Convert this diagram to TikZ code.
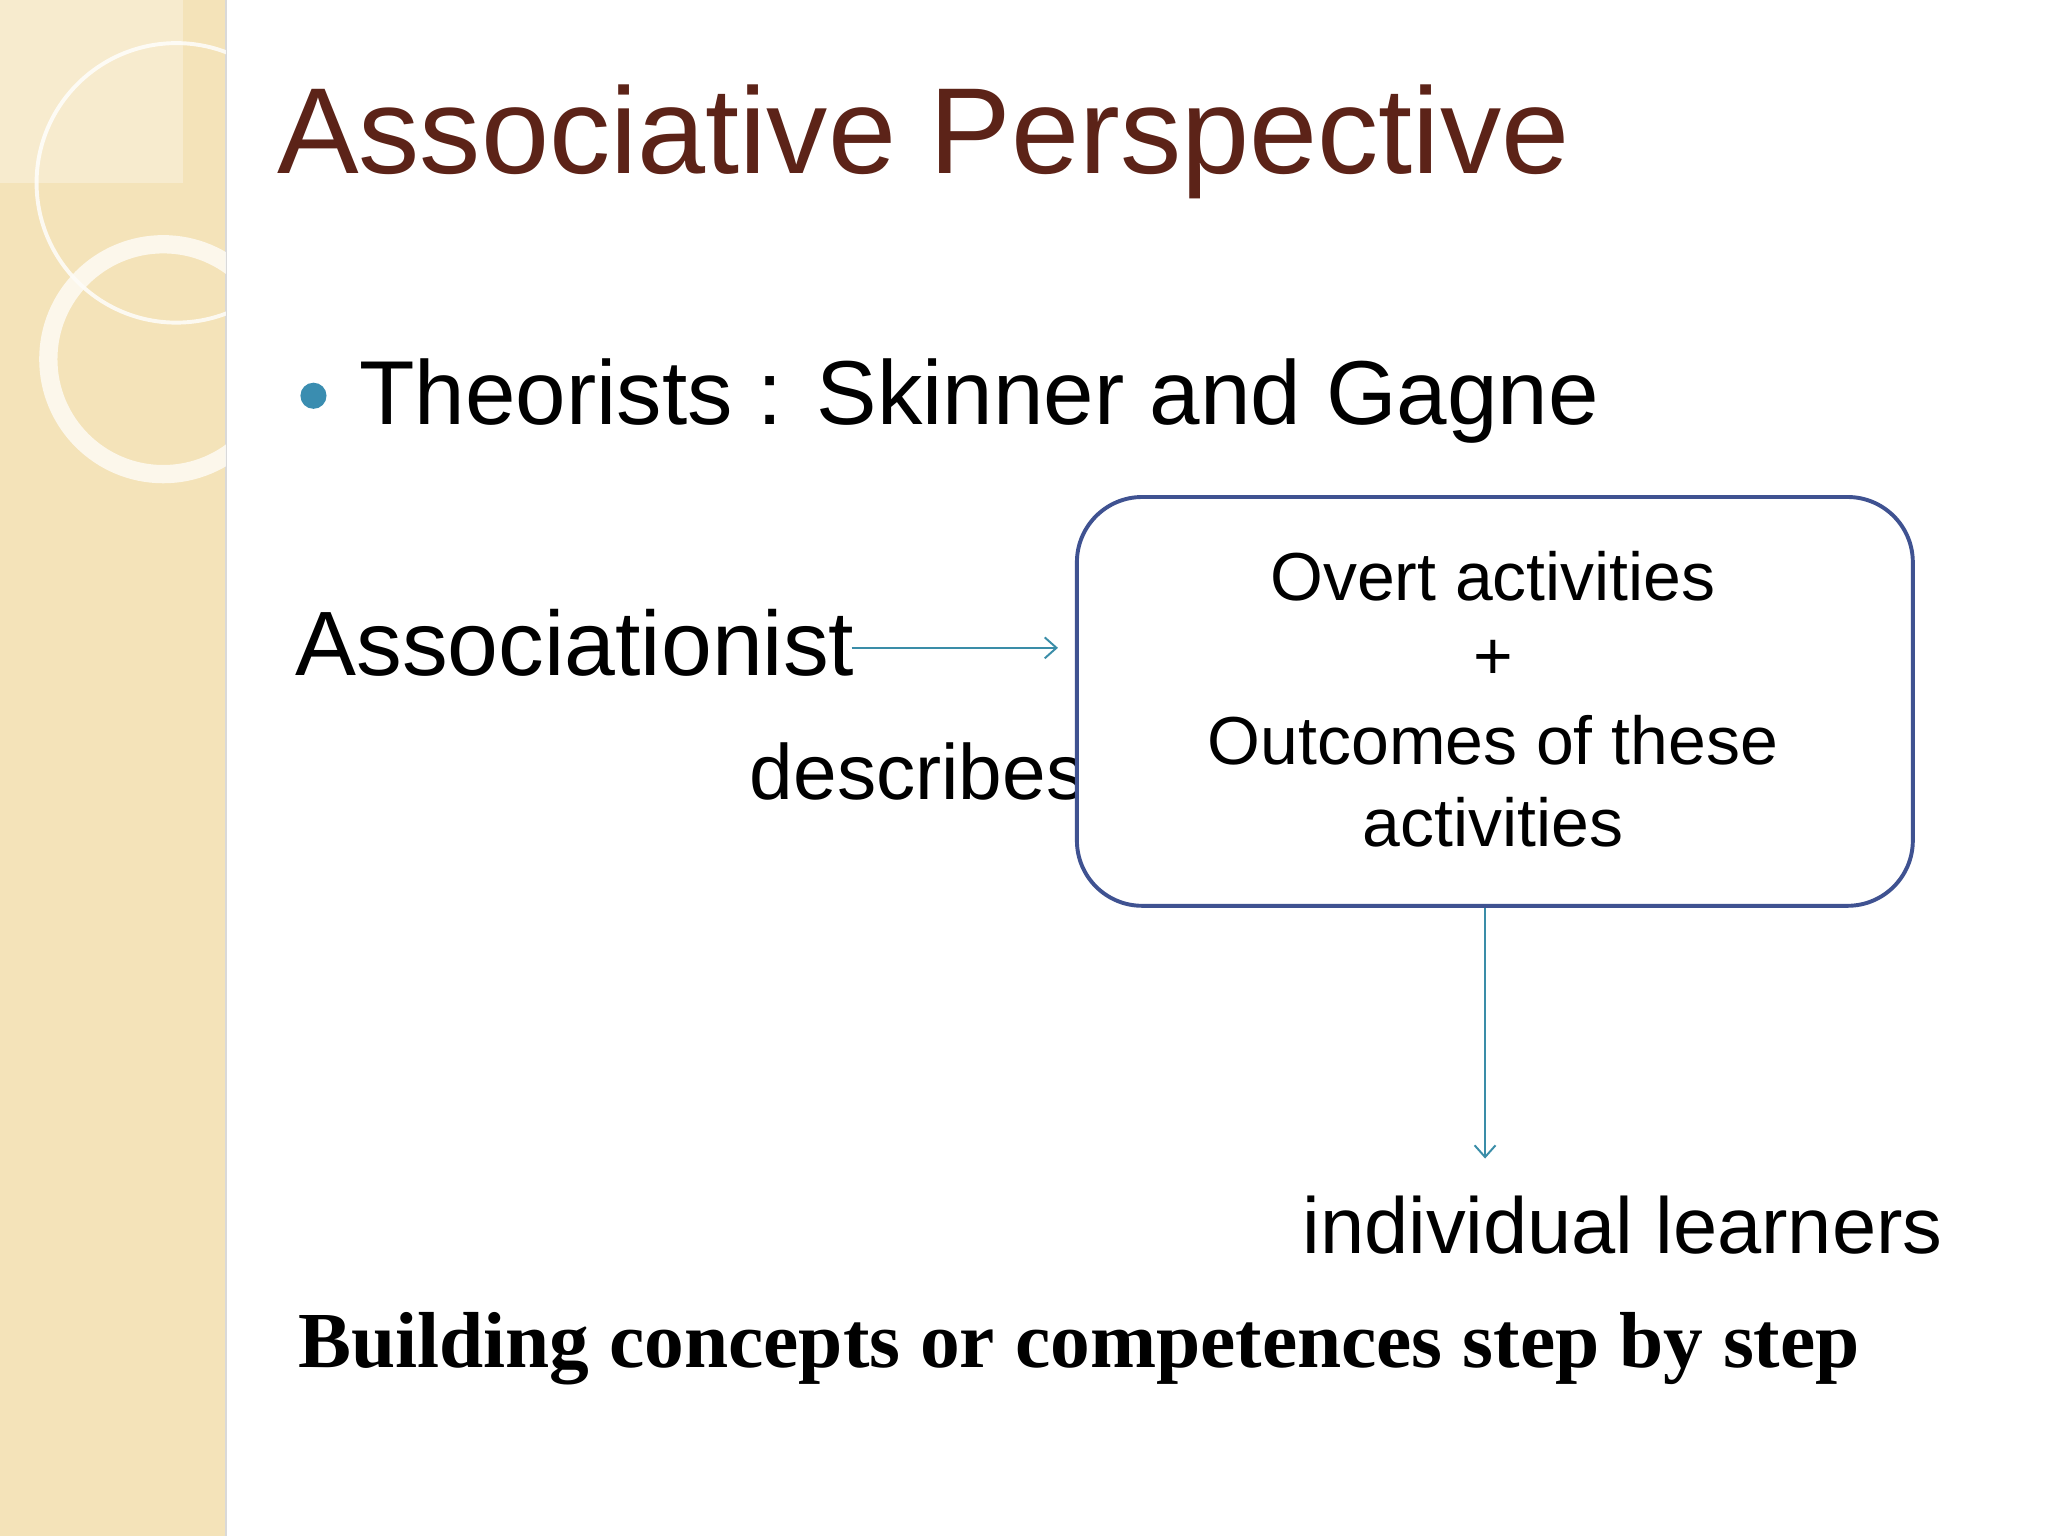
\documentclass[tikz,border=0pt]{standalone}
\usepackage{fontspec}
\setmainfont{Liberation Sans}
\newfontfamily\serifb{Liberation Serif}
\usetikzlibrary{arrows.meta}
\definecolor{strip}{HTML}{F4E3B9}
\definecolor{titlec}{HTML}{5C2318}
\definecolor{bul}{HTML}{3A8DB0}
\definecolor{boxc}{HTML}{3F5291}
\definecolor{arr}{HTML}{3A8DA8}
\tikzset{
  txt/.style={anchor=base west,inner sep=0pt},
  conn/.style={draw=arr,line width=1.5pt,-{Straight Barb[length=9pt,width=16pt]}}
}
\newcommand{\fs}[1]{\fontsize{#1}{#1}\selectfont}
\begin{document}
\begin{tikzpicture}[x=1pt,y=-1pt]
\useasboundingbox (0,0) rectangle (1568,1176);
\fill[white] (0,0) rectangle (1568,1176);
\fill[strip] (0,0) rectangle (173,1176);
\draw[black!15,line width=2pt] (173,0) -- (173,1176);
\begin{scope}
\clip (0,0) rectangle (173,1176);
\fill[white,opacity=0.3] (0,0) rectangle (140,140);
\draw[white,line width=3pt,opacity=0.8] (135,140) circle (107);
\draw[white!90!strip,line width=14pt,opacity=0.8] (125,275) circle (88);
\end{scope}
\node[txt,text=titlec] (title) at (212,133) {\fs{93.7}Associative Perspective};
\fill[bul] (240,303) circle (10);
\node[txt] (theor) at (275,325) {\fs{69.5}Theorists : Skinner and Gagne};
\node[txt] (assoc) at (226,517) {\fs{70}Associationist};
\node[txt] (desc) at (574,612) {\fs{60}describes};
\node[draw=boxc,fill=white,line width=3pt,rounded corners=50pt,minimum width=640pt,minimum height=313pt,anchor=north west] (box) at (823,379) {};
\node[anchor=base,inner sep=0pt] at (1143,460) {\fs{52}Overt activities};
\node[anchor=base,inner sep=0pt] at (1143,520) {\fs{52}+};
\node[anchor=base,inner sep=0pt] at (1143,585) {\fs{52}Outcomes of these};
\node[anchor=base,inner sep=0pt] at (1143,648) {\fs{52}activities};
\node[txt] (learn) at (997,960) {\fs{60.8}individual learners};
\node[txt] (build) at (228,1047) {\serifb\bfseries\fs{60.8}Building concepts or competences step by step};
\coordinate (a1) at (652,496);
\coordinate (a2) at (810,496);
\draw[conn] (a1) -- (a2);
\coordinate (b2) at (1137,887);
\draw[conn] (box.south -| b2) -- (b2);
\end{tikzpicture}
\end{document}
